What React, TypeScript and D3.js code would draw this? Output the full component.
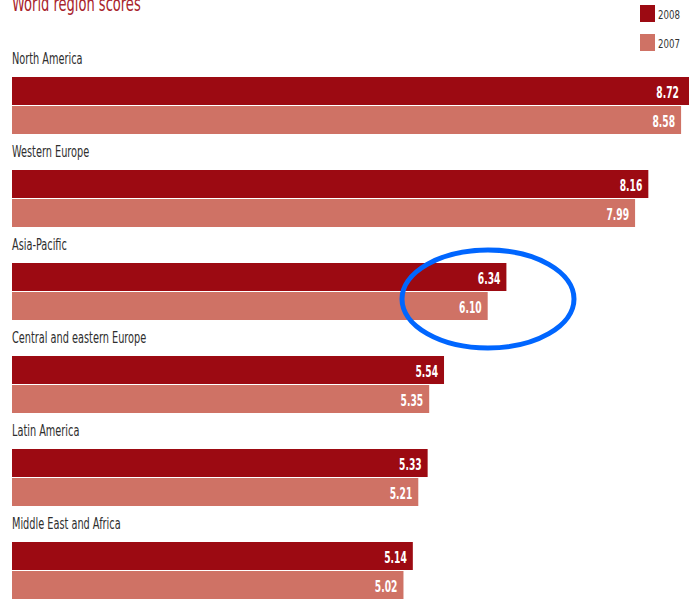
import React, { useRef, useEffect } from 'react';
import * as d3 from 'd3';

const regions = [
  'North America',
  'Western Europe',
  'Asia-Pacific',
  'Central and eastern Europe',
  'Latin America',
  'Middle East and Africa',
];
const scores2008 = [8.72, 8.16, 6.34, 5.54, 5.33, 5.14];
const scores2007 = [8.58, 7.99, 6.1, 5.35, 5.21, 5.02];
const years = ['2008', '2007'];

const W = 689;
const H = 605;
const DARK = '#9c0a12';
const LIGHT = '#cf7265';
const FONT = '"DejaVu Sans Condensed", "DejaVu Sans", sans-serif';

// the source uses a narrow face, so squeeze the text horizontally
const narrowText = (parent: any, x: number, y: number, sx: number) =>
  parent.append('g').attr('transform', `translate(${x},${y}) scale(${sx},1)`).append('text').attr('font-family', FONT);

const App = () => {
  const svgRef = useRef<SVGSVGElement>(null);

  useEffect(() => {
    const svg = d3.select(svgRef.current);
    svg.selectAll('*').remove();

    const x = d3.scaleLinear().domain([0, 8.72]).range([12, 692]);
    const y = d3.scaleBand<string>().domain(regions).range([77, 77 + 93 * 6]);
    const barH = 29;

    svg.append('rect').attr('width', W).attr('height', H).attr('fill', '#fff');

    // title, cut at the top like the source
    narrowText(svg, 12, 11, 0.66)
      .attr('fill', '#a8232b')
      .attr('font-size', 22)
      .text('World region scores');

    // legend
    years.forEach((yr, i) => {
      svg.append('rect')
        .attr('x', 640).attr('y', 5 + i * 29)
        .attr('width', 15).attr('height', 17)
        .attr('fill', i === 0 ? DARK : LIGHT);
      narrowText(svg, 658, 19 + i * 29, 0.8)
        .attr('fill', '#333')
        .attr('font-size', 12)
        .text(yr);
    });

    const series = [scores2008, scores2007];

    regions.forEach((r, i) => {
      const g = svg.append('g').attr('transform', `translate(0,${y(r)})`);

      narrowText(g, 12, -13, 0.7)
        .attr('fill', '#2e2e2e')
        .attr('font-size', 15.5)
        .text(r);

      series.forEach((vals, si) => {
        g.append('rect')
          .attr('x', x(0))
          .attr('y', si * barH)
          .attr('width', x(vals[i]) - x(0))
          .attr('height', barH - 1)
          .attr('fill', si === 0 ? DARK : LIGHT);

        narrowText(g, Math.min(x(vals[i]), W - 4) - 6, si * barH + barH / 2 + 1, 0.68)
          .attr('dy', '0.35em')
          .attr('text-anchor', 'end')
          .attr('fill', '#fff')
          .attr('font-weight', 'bold')
          .attr('font-size', 15)
          .text(vals[i].toFixed(2));
      });
    });

    // blue highlight ellipse around Asia-Pacific values
    svg.append('ellipse')
      .attr('cx', 488).attr('cy', y('Asia-Pacific')! + 36)
      .attr('rx', 86).attr('ry', 49)
      .attr('fill', 'none')
      .attr('stroke', '#0066ff')
      .attr('stroke-width', 5);
  }, []);

  return (
    <div style={{ position: 'absolute', left: 0, top: 0 }}>
      <svg ref={svgRef} width={W} height={H} style={{ display: 'block' }} />
    </div>
  );
};

export default App;
